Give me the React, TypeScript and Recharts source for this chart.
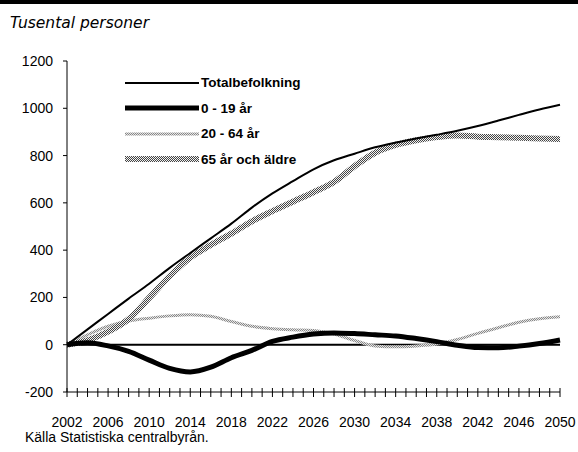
import { LineChart, Line, XAxis, YAxis, ReferenceLine } from 'recharts';

const YEARS = [
  2002, 2004, 2006, 2008, 2010, 2012, 2014, 2016, 2018, 2020, 2022, 2024, 2026,
  2028, 2030, 2032, 2034, 2036, 2038, 2040, 2042, 2044, 2046, 2048, 2050,
];
const TOTAL = [
  0, 65, 130, 195, 258, 325, 388, 450, 512, 580, 640, 692, 742,
  780, 808, 835, 855, 872, 888, 905, 925, 948, 972, 995, 1015,
];
const AGE_0_19 = [
  0, 8, -5, -28, -65, -100, -115, -95, -55, -24, 14, 32, 45,
  50, 47, 42, 37, 26, 13, -2, -12, -13, -6, 5, 20,
];
const AGE_20_64 = [
  0, 42, 78, 100, 112, 122, 127, 120, 98, 78, 68, 63, 60,
  45, 18, -5, -9, -5, 3, 22, 48, 72, 95, 110, 118,
];
const AGE_65 = [
  0, 18, 55, 108, 198, 290, 368, 422, 470, 522, 565, 605, 645,
  688, 755, 812, 845, 865, 878, 885, 880, 878, 875, 872, 870,
];

const Y_TICKS = [-200, 0, 200, 400, 600, 800, 1000, 1200];
const X_LABELS = [2002, 2006, 2010, 2014, 2018, 2022, 2026, 2030, 2034, 2038, 2042, 2046, 2050];
const X_TICKS = Array.from({ length: 49 }, (_, i) => 2002 + i);

const data = YEARS.map((year, i) => ({
  year,
  total: TOTAL[i],
  young: AGE_0_19[i],
  working: AGE_20_64[i],
  old: AGE_65[i],
}));

const FONT = "'Liberation Sans', Arial, sans-serif";

const SERIES = [
  { key: 'total', label: 'Totalbefolkning', stroke: '#000', width: 2 },
  { key: 'young', label: '0 - 19 år', stroke: '#000', width: 5 },
  { key: 'working', label: '20 - 64 år', stroke: 'url(#dots2064)', width: 3 },
  { key: 'old', label: '65 år och äldre', stroke: 'url(#hatch65)', width: 6 },
];

function YearTick({ x, y, payload }: any) {
  const show = X_LABELS.includes(payload.value);
  return (
    <g>
      <line x1={x} x2={x} y1={y - 4} y2={y + 5} stroke="#000" strokeWidth={1} />
      {show && (
        <text x={x} y={y + 35} textAnchor="middle" fontSize={14} fontFamily={FONT} fill="#000">
          {payload.value}
        </text>
      )}
    </g>
  );
}

function LegendBox() {
  return (
    <div
      style={{
        position: 'absolute',
        left: 125,
        top: 70,
        fontFamily: FONT,
        fontWeight: 'bold',
        fontSize: 13.5,
        color: '#000',
      }}
    >
      {SERIES.map((s) => (
        <div key={s.key} style={{ display: 'flex', alignItems: 'center', height: 25.5 }}>
          <svg width={74} height={10} style={{ display: 'block' }}>
            <line x1={0} x2={74} y1={5} y2={5} stroke={s.stroke} strokeWidth={s.width} />
          </svg>
          <span style={{ marginLeft: 2 }}>{s.label}</span>
        </div>
      ))}
    </div>
  );
}

export default function App() {
  return (
    <div style={{ position: 'absolute', left: 0, top: 0, width: 578, height: 452, background: '#fff' }}>
      <div style={{ position: 'absolute', left: 0, top: 0, width: 578, height: 4, background: '#000' }} />
      <div
        style={{
          position: 'absolute',
          left: 10,
          top: 14,
          fontFamily: "'DejaVu Sans', Verdana, sans-serif",
          fontStyle: 'italic',
          fontSize: 15.5,
          color: '#000',
          lineHeight: '18px',
        }}
      >
        Tusental personer
      </div>
      <LineChart width={578} height={452} data={data} margin={{ top: 61, right: 18, bottom: 30, left: 0 }}>
        <defs>
          <pattern id="hatch65" patternUnits="userSpaceOnUse" width={2} height={2}>
            <rect width={2} height={2} fill="#f2f2f2" />
            <rect width={1} height={1} fill="#444" />
            <rect x={1} y={1} width={1} height={1} fill="#444" />
          </pattern>
          <pattern id="dots2064" patternUnits="userSpaceOnUse" width={2} height={2}>
            <rect width={2} height={2} fill="#e4e4e4" />
            <rect width={1} height={1} fill="#888" />
            <rect x={1} y={1} width={1} height={1} fill="#888" />
          </pattern>
        </defs>
        <XAxis
          dataKey="year"
          type="number"
          domain={[2002, 2050]}
          ticks={X_TICKS}
          interval={0}
          tick={<YearTick />}
          tickLine={false}
          tickSize={0}
          tickMargin={0}
          height={30}
          axisLine={{ stroke: '#000' }}
        />
        <XAxis
          xAxisId="top"
          orientation="top"
          dataKey="year"
          type="number"
          domain={[2002, 2050]}
          height={0}
          tick={false}
          tickLine={false}
          axisLine={{ stroke: '#000' }}
        />
        <YAxis
          domain={[-200, 1200]}
          ticks={Y_TICKS}
          interval={0}
          width={67}
          tickSize={4}
          tickMargin={10}
          tick={{ fontSize: 14, fontFamily: FONT, fill: '#000' }}
          tickLine={{ stroke: '#000' }}
          axisLine={{ stroke: '#000' }}
        />
        <YAxis
          yAxisId="right"
          orientation="right"
          domain={[-200, 1200]}
          width={0}
          tick={false}
          tickLine={false}
          axisLine={{ stroke: '#000' }}
        />
        <ReferenceLine y={0} stroke="#000" strokeWidth={2} />
        <Line dataKey="working" type="monotone" stroke="url(#dots2064)" strokeWidth={3} dot={false} isAnimationActive={false} />
        <Line dataKey="old" type="monotone" stroke="url(#hatch65)" strokeWidth={6} dot={false} isAnimationActive={false} />
        <Line dataKey="total" type="monotone" stroke="#000" strokeWidth={2} dot={false} isAnimationActive={false} />
        <Line dataKey="young" type="monotone" stroke="#000" strokeWidth={5} dot={false} isAnimationActive={false} />
      </LineChart>
      <LegendBox />
      <div
        style={{
          position: 'absolute',
          left: 25,
          top: 429,
          fontFamily: FONT,
          fontSize: 14,
          color: '#000',
          lineHeight: '16px',
        }}
      >
        Källa Statistiska centralbyrån.
      </div>
    </div>
  );
}
